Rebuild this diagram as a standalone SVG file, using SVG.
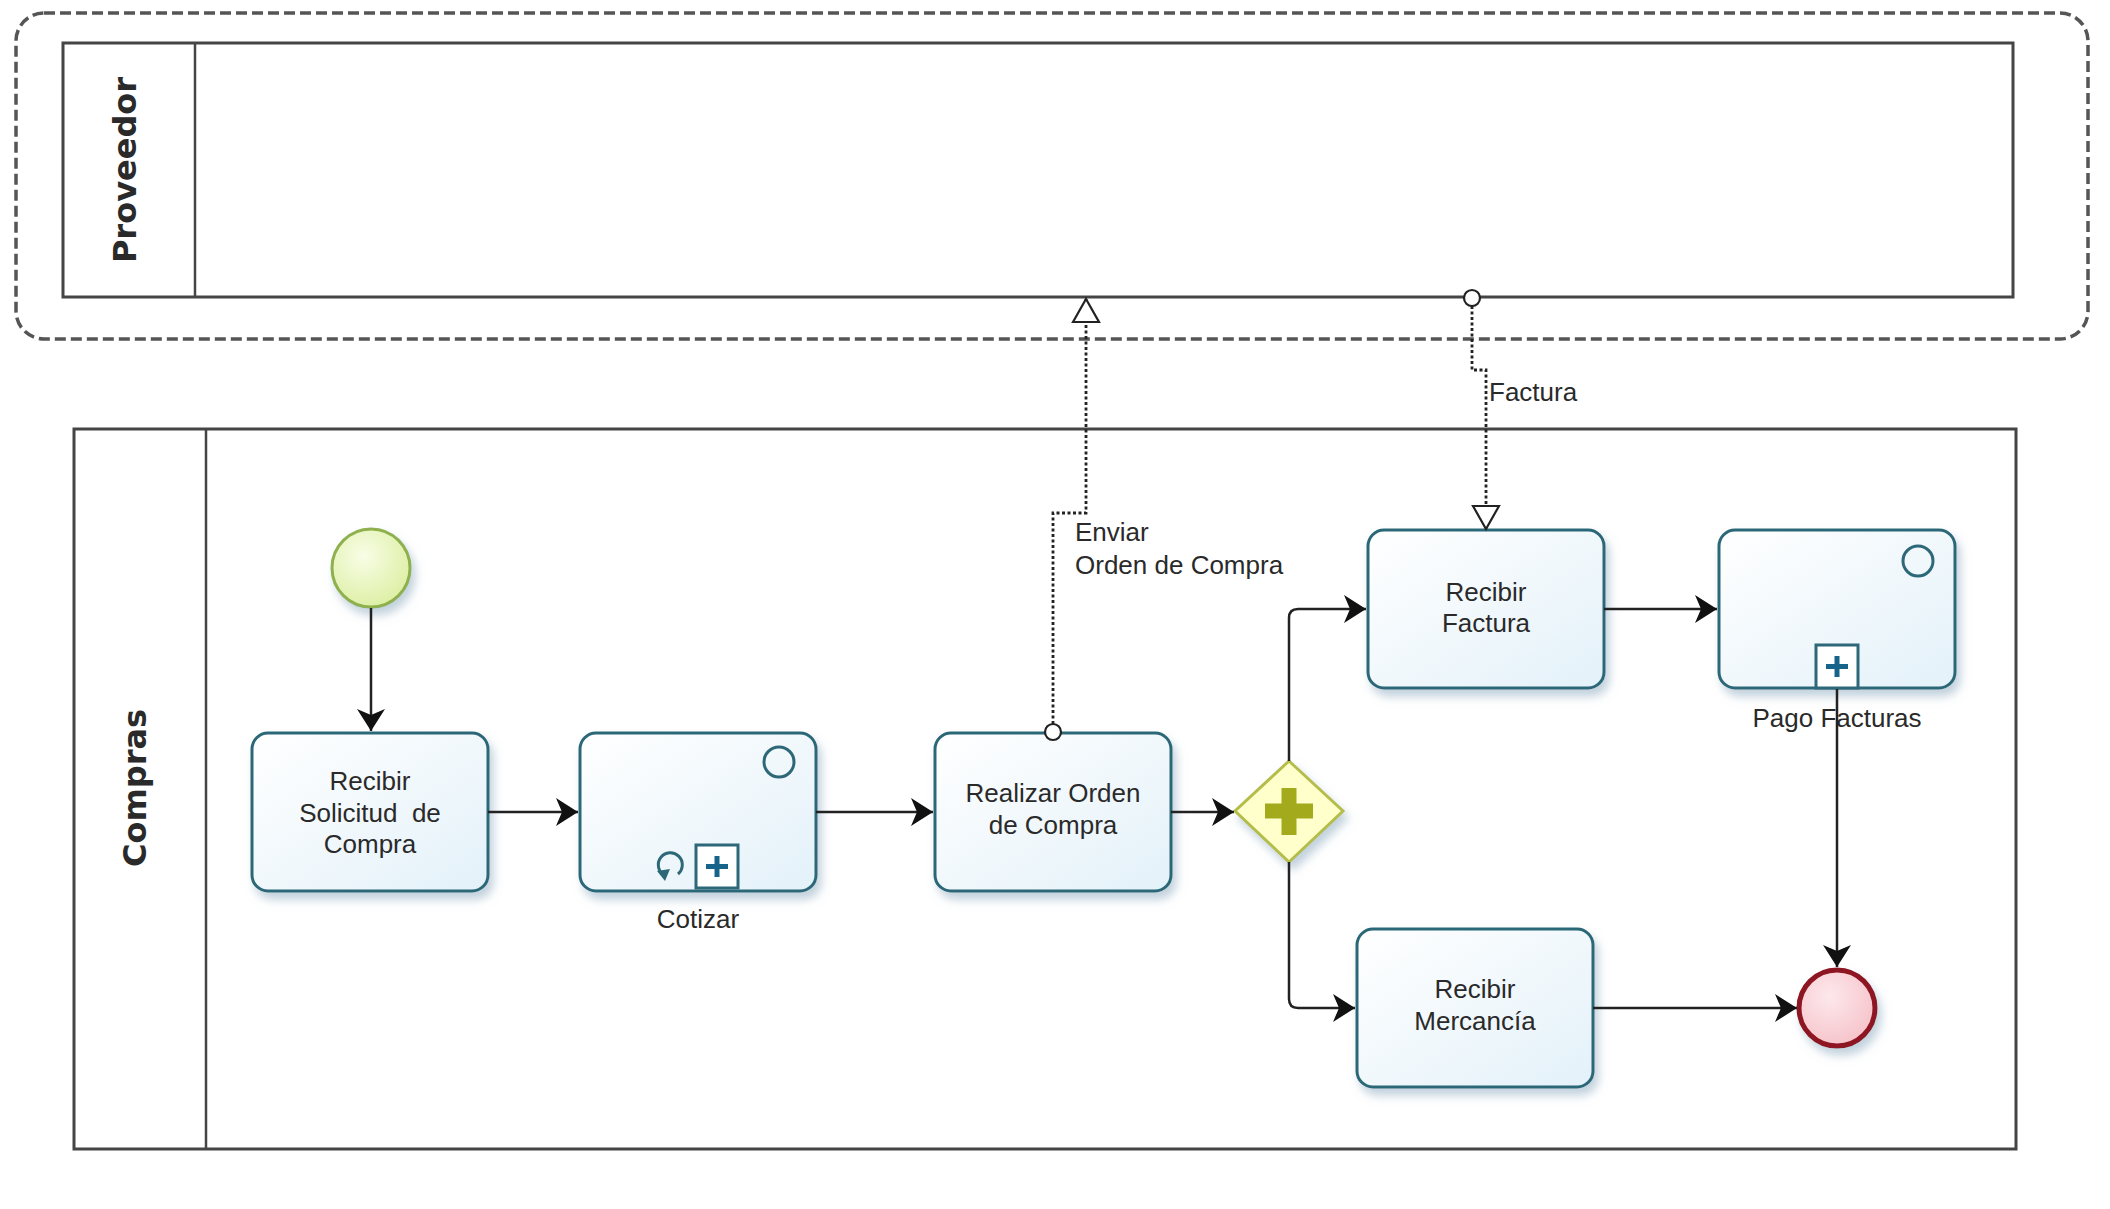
<svg xmlns="http://www.w3.org/2000/svg" width="2110" height="1209" viewBox="0 0 2110 1209">
<defs>
<style>
.pool{fill:#fff;stroke:#454545;stroke-width:3}
.hdr{fill:none;stroke:#454545;stroke-width:2.5}
.pname{font-family:"DejaVu Sans",sans-serif;font-weight:bold;font-size:32px;fill:#2a2a2a;text-anchor:middle}
.task{fill:url(#tg);stroke:#2c6878;stroke-width:3;filter:url(#sh)}
.lbl{font-family:"Liberation Sans",Arial,sans-serif;font-size:26px;fill:#2a2a2a;text-anchor:middle}
.lbll{font-family:"Liberation Sans",Arial,sans-serif;font-size:26px;fill:#2a2a2a}
.seq{fill:none;stroke:#222;stroke-width:2.5;marker-end:url(#ah)}
.msg{fill:none;stroke:#222;stroke-width:2.8;stroke-dasharray:3 2.5}
.mark{fill:none;stroke:#2c6878;stroke-width:3}
.plus{stroke:#17648a;stroke-width:5;fill:none}
</style>
<linearGradient id="tg" x1="0" y1="0" x2="1" y2="1">
<stop offset="0" stop-color="#ffffff"/>
<stop offset="1" stop-color="#e3f1f9"/>
</linearGradient>
<radialGradient id="sg" cx="0.4" cy="0.35" r="0.7">
<stop offset="0" stop-color="#f8fde6"/>
<stop offset="1" stop-color="#dcefa2"/>
</radialGradient>
<radialGradient id="eg" cx="0.4" cy="0.35" r="0.7">
<stop offset="0" stop-color="#fde8ec"/>
<stop offset="1" stop-color="#f5c2c8"/>
</radialGradient>
<filter id="sh" x="-20%" y="-20%" width="150%" height="150%">
<feDropShadow dx="4" dy="7" stdDeviation="5" flood-color="#8eaac0" flood-opacity="0.55"/>
</filter>
<marker id="ah" markerUnits="userSpaceOnUse" markerWidth="26" markerHeight="30" refX="22" refY="14" orient="auto">
<path d="M0,0 L22,14 L0,28 L6,14 z" fill="#111"/>
</marker>
<marker id="oh" markerUnits="userSpaceOnUse" markerWidth="34" markerHeight="34" refX="25" refY="15" orient="auto">
<path d="M2,2 L25,15 L2,28 z" fill="#fff" stroke="#222" stroke-width="2.2"/>
</marker>
</defs>

<rect x="0" y="0" width="2110" height="1209" fill="#fff"/>

<g id="group-proveedor">
<rect x="16" y="13" width="2072" height="326" rx="28" fill="none" stroke="#555" stroke-width="3.5" stroke-dasharray="11 5"/>
</g>

<g id="pool-proveedor">
<rect class="pool" x="63" y="43" width="1950" height="254"/>
<line class="hdr" x1="195" y1="43" x2="195" y2="297"/>
<text class="pname" transform="translate(136,170) rotate(-90)">Proveedor</text>
</g>

<g id="pool-compras">
<rect class="pool" x="74" y="429" width="1942" height="720"/>
<line class="hdr" x1="206" y1="429" x2="206" y2="1149"/>
<text class="pname" transform="translate(146,788) rotate(-90)">Compras</text>
</g>

<g id="start">
<circle cx="371" cy="568" r="39" fill="url(#sg)" stroke="#8fb14e" stroke-width="3" filter="url(#sh)"/>
</g>

<g id="task-recibir-solicitud">
<rect class="task" x="252" y="733" width="236" height="158" rx="16"/>
<text class="lbl" x="370" y="790">Recibir</text>
<text class="lbl" x="370" y="822" xml:space="preserve">Solicitud  de</text>
<text class="lbl" x="370" y="853">Compra</text>
</g>

<g id="task-cotizar">
<rect class="task" x="580" y="733" width="236" height="158" rx="16"/>
<circle class="mark" cx="779" cy="762" r="15"/>
<path class="mark" d="M664,875 A12,12 0 1 1 678,874"/>
<path d="M657,871 L665,881 L670,869 z" fill="#2c6878"/>
<rect x="696" y="845" width="42" height="43" fill="#fff" stroke="#2c6878" stroke-width="3"/>
<path class="plus" d="M717,856 L717,877 M706,866.5 L728,866.5"/>
<text class="lbl" x="698" y="928">Cotizar</text>
</g>

<g id="task-realizar-orden">
<rect class="task" x="935" y="733" width="236" height="158" rx="16"/>
<text class="lbl" x="1053" y="802">Realizar Orden</text>
<text class="lbl" x="1053" y="834">de Compra</text>
</g>

<g id="gateway">
<path d="M1289,761 L1343,811 L1289,862 L1235,811 z" fill="#ffffcc" stroke="#b5bd4a" stroke-width="3" filter="url(#sh)"/>
<path d="M1289,788 L1289,835 M1265,811 L1313,811" stroke="#a3ab1c" stroke-width="15" fill="none"/>
</g>

<g id="task-recibir-factura">
<rect class="task" x="1368" y="530" width="236" height="158" rx="16"/>
<text class="lbl" x="1486" y="601">Recibir</text>
<text class="lbl" x="1486" y="632">Factura</text>
</g>

<g id="task-pago-facturas">
<rect class="task" x="1719" y="530" width="236" height="158" rx="16"/>
<circle class="mark" cx="1918" cy="561" r="15"/>
<rect x="1816" y="645" width="42" height="43" fill="#fff" stroke="#2c6878" stroke-width="3"/>
<path class="plus" d="M1837,656 L1837,677 M1826,666.5 L1848,666.5"/>
<text class="lbl" x="1837" y="727">Pago Facturas</text>
</g>

<g id="task-recibir-mercancia">
<rect class="task" x="1357" y="929" width="236" height="158" rx="16"/>
<text class="lbl" x="1475" y="998">Recibir</text>
<text class="lbl" x="1475" y="1030">Mercancía</text>
</g>

<g id="end">
<circle cx="1837" cy="1008" r="38" fill="url(#eg)" stroke="#8e1422" stroke-width="5" filter="url(#sh)"/>
</g>

<g id="connectors">
<path class="seq" d="M371,608 L371,731"/>
<path class="seq" d="M488,812 L578,812"/>
<path class="seq" d="M816,812 L933,812"/>
<path class="seq" d="M1171,812 L1234,812"/>
<path class="seq" d="M1289,761 L1289,618 Q1289,609 1298,609 L1366,609"/>
<path class="seq" d="M1289,862 L1289,999 Q1289,1008 1298,1008 L1355,1008"/>
<path class="seq" d="M1604,609 L1717,609"/>
<path class="seq" d="M1593,1008 L1797,1008"/>
<path class="seq" d="M1837,689 L1837,967"/>
<path class="msg" d="M1053,724 L1053,513 L1086,513 L1086,299" marker-end="url(#oh)"/>
<circle cx="1053" cy="732" r="8" fill="#fff" stroke="#222" stroke-width="2.2"/>
<path class="msg" d="M1472,306 L1472,370 L1486,370 L1486,529" marker-end="url(#oh)"/>
<circle cx="1472" cy="298" r="8" fill="#fff" stroke="#222" stroke-width="2.2"/>
<text class="lbll" x="1075" y="541">Enviar</text>
<text class="lbll" x="1075" y="574">Orden de Compra</text>
<text class="lbll" x="1489" y="401">Factura</text>
</g>
</svg>
